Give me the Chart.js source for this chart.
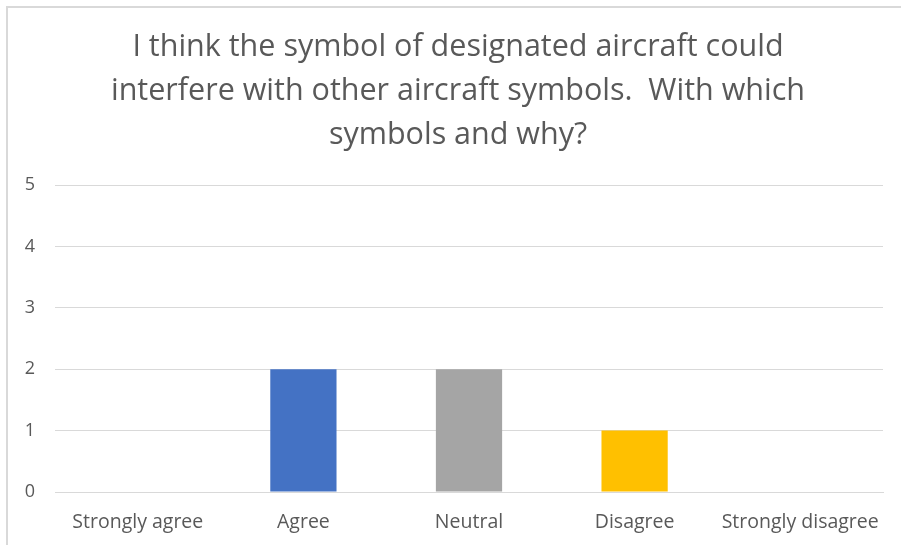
<!DOCTYPE html>
<html>
<head>
<meta charset="utf-8">
<script src="https://cdn.jsdelivr.net/npm/chart.js@4.4.1/dist/chart.umd.min.js"></script>
<style>
  html, body { margin: 0; padding: 0; background: #ffffff; }
  #wrap { position: relative; width: 901px; height: 545px; }
  canvas { display: block; }
</style>
</head>
<body>
<div id="wrap"><canvas id="c" width="901" height="545"></canvas></div>
<script>
const categories = ["Strongly agree", "Agree", "Neutral", "Disagree", "Strongly disagree"];
const counts = [0, 2, 2, 1, 0];
const barColors = ["#ED7D31", "#4472C4", "#A5A5A5", "#FFC000", "#5B9BD5"];
const titleLines = [
  "I think the symbol of designated aircraft could",
  "interfere with other aircraft symbols.  With which",
  "symbols and why?"
];
const yTicks = [0, 1, 2, 3, 4, 5];

const frame = {
  id: 'frame',
  beforeDraw(chart) {
    const ctx = chart.ctx;
    ctx.save();
    ctx.fillStyle = '#ffffff';
    ctx.fillRect(0, 0, chart.width, chart.height);
    ctx.strokeStyle = '#D9D9D9';
    ctx.lineWidth = 2;
    ctx.beginPath();
    ctx.moveTo(7, chart.height);
    ctx.lineTo(7, 7);
    ctx.lineTo(chart.width, 7);
    ctx.stroke();
    ctx.restore();
  },
  afterLayout(chart) {
    // shift the title box a little to the right, as in the reference
    const t = chart.titleBlock;
    if (t) { t.left += 18; t.right += 0; t.width = t.right - t.left; }
  }
};

new Chart(document.getElementById('c'), {
  type: 'bar',
  data: {
    labels: categories,
    datasets: [{
      data: counts,
      backgroundColor: barColors,
      borderWidth: 0,
      categoryPercentage: 1.0,
      barPercentage: 0.4
    }]
  },
  options: {
    responsive: false,
    animation: false,
    layout: { padding: { left: 15, right: 18, top: 3, bottom: 8 } },
    plugins: {
      legend: { display: false },
      tooltip: { enabled: false },
      title: {
        display: true,
        text: titleLines,
        color: '#595959',
        font: { family: 'Open Sans', size: 30.5, weight: 'normal', lineHeight: '44px' },
        padding: { top: 22, bottom: 28 }
      }
    },
    scales: {
      x: {
        afterFit(scale) { scale.height = 45; },
        grid: { display: false, drawTicks: false },
        border: { display: true, color: '#D9D9D9', width: 1 },
        ticks: {
          color: '#595959',
          font: { family: 'Open Sans', size: 19.5 },
          padding: 19,
          maxRotation: 0,
          autoSkip: false
        }
      },
      y: {
        min: 0,
        max: 5,
        afterBuildTicks(scale) { scale.ticks = yTicks.map(v => ({ value: v })); },
        afterFit(scale) { scale.width = 40; },
        grid: { color: '#D9D9D9', lineWidth: 1, drawTicks: false },
        border: { display: false },
        ticks: {
          color: '#595959',
          font: { family: 'Open Sans', size: 18 },
          padding: 20
        }
      }
    }
  },
  plugins: [frame]
});
</script>
</body>
</html>
